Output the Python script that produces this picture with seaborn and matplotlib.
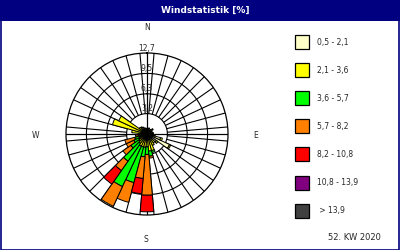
import numpy as np
import matplotlib
matplotlib.use("Agg")
import matplotlib.pyplot as plt
from matplotlib.patches import Rectangle
import seaborn as sns

sns.set_style("white")
plt.rcParams['font.family'] = ['DejaVu Sans']

# ---- data ----
directions = list(range(0, 360, 10))
class_labels = ["0,5 - 2,1", "2,1 - 3,6", "3,6 - 5,7", "5,7 - 8,2",
                "8,2 - 10,8", "10,8 - 13,9", " > 13,9"]
class_colors = ["#FFFFC8", "#FFFF00", "#00FF00", "#FF8000",
                "#FF0000", "#800080", "#404040"]
v_05_21 = [0.6, 0.5, 0.7, 0.5, 0.6, 0.8, 0.6, 0.5, 0.7, 0.8, 1.0, 2.2,
           3.9, 1.8, 0.9, 0.6, 0.5, 0.4, 0.3, 0.3, 0.3, 0.3, 0.3, 0.3,
           0.4, 0.4, 0.5, 0.6, 0.8, 0.6, 0.5, 0.7, 0.9, 0.8, 0.7, 0.6]
v_21_36 = [0.3, 0.2, 0.3, 0.2, 0.3, 0.4, 0.3, 0.2, 0.3, 0.2, 0.3, 0.3,
           0.2, 0.3, 0.8, 1.4, 2.2, 2.3, 1.7, 1.8, 1.8, 1.8, 1.5, 1.3,
           1.0, 0.8, 0.6, 0.8, 1.6, 5.0, 4.4, 0.8, 0.5, 0.4, 0.3, 0.3]
v_36_57 = [0, 0, 0, 0, 0, 0, 0, 0, 0, 0, 0, 0,
           0, 0, 0, 0, 0.3, 0.8, 1.2, 1.5, 5.8, 7.0, 3.4, 1.5,
           0.9, 0.8, 0.3, 0, 0, 0, 0, 0, 0, 0, 0, 0]
v_57_82 = [0, 0, 0, 0, 0, 0, 0, 0, 0, 0, 0, 0,
           0, 0, 0, 0, 0, 0.3, 6.4, 3.4, 3.2, 3.4, 1.8, 1.5,
           1.3, 1.6, 0.4, 0, 0, 0, 0, 0, 0, 0, 0, 0]
v_82_108 = [0, 0, 0, 0, 0, 0, 0, 0, 0, 0, 0, 0,
            0, 0, 0, 0, 0, 0, 2.6, 2.4, 0, 0, 2.6, 0,
            0, 0, 0, 0, 0, 0, 0, 0, 0, 0, 0, 0]
v_108_139 = [0] * 36
v_gt_139 = [0] * 36
ring_ticks = [3.2, 6.3, 9.5, 12.7]
ring_labels = ["3,2", "6,3", "9,5", "12,7"]
compass = ["N", "E", "S", "W"]
title = "Windstatistik [%]"
footer = "52. KW 2020"

series = [v_05_21, v_21_36, v_36_57, v_57_82, v_82_108, v_108_139, v_gt_139]

navy = "#000080"
fig = plt.figure(figsize=(4, 2.5), dpi=100)
fig.patch.set_facecolor("white")

# title bar and frame
fig.add_artist(Rectangle((0, 229 / 250), 1, 21 / 250, transform=fig.transFigure,
                         facecolor=navy, edgecolor="none"))
fig.add_artist(Rectangle((0.0015, 0.002), 0.997, 0.996, transform=fig.transFigure,
                         facecolor="none", edgecolor=navy, lw=1.2))
fig.text(205 / 400, 239.5 / 250, title, color="white", fontsize=6.5,
         fontweight="bold", ha="center", va="center")

# polar axes: centre (147,134) px, radius 81 px
cx, cy, R = 147, 134, 81
ax = fig.add_axes([(cx - R) / 400, (250 - cy - R) / 250, 2 * R / 400, 2 * R / 250],
                  projection="polar")
ax.set_theta_zero_location("N")
ax.set_theta_direction(-1)
rmax = ring_ticks[-1]
ax.set_ylim(0, rmax)
ax.grid(False)
ax.set_xticks([])
ax.set_yticks([])
ax.spines["polar"].set_linewidth(0.9)
ax.spines["polar"].set_color("black")

# grid: rings and spokes
th = np.linspace(0, 2 * np.pi, 361)
for r in ring_ticks[:-1]:
    ax.plot(th, np.full_like(th, r), color="black", lw=0.8, zorder=1)
for d in directions:
    t = np.deg2rad(d + 5)
    ax.plot([t, t], [ring_ticks[0], rmax], color="black", lw=0.8, zorder=1)
for d in [0, 90]:
    t = np.deg2rad(d)
    ax.plot([t, t + np.pi], [rmax, rmax], color="black", lw=0.8, zorder=1)
    ax.plot([t, t], [0, rmax], color="black", lw=0.8, zorder=1)
    ax.plot([t + np.pi, t + np.pi], [0, rmax], color="black", lw=0.8, zorder=1)

# stacked bars
theta = np.deg2rad(np.array(directions, dtype=float))
bottom = np.zeros(len(directions))
width = np.deg2rad(10)
for vals, col in zip(series, class_colors):
    v = np.array(vals, dtype=float)
    m = v > 0
    if m.any():
        ax.bar(theta[m], v[m], width=width, bottom=bottom[m], color=col,
               edgecolor="black", linewidth=0.7, zorder=3, align="center")
    bottom += v

# ring labels along north axis
for r, lab in zip(ring_ticks, ring_labels):
    ypx = cy - r / rmax * R - 5
    fig.text(cx / 400, (250 - ypx) / 250, lab, fontsize=5.5, ha="center",
             va="center", zorder=5)

# compass labels
pos = {"N": (147, 28), "E": (256, 136), "S": (146, 239), "W": (35, 136)}
for c in compass:
    x, y = pos[c]
    fig.text(x / 400, (250 - y) / 250, c, fontsize=5.5, ha="center", va="center")

# legend
for i, (lab, col) in enumerate(zip(class_labels, class_colors)):
    yc = 42 + i * 28.1
    fig.add_artist(Rectangle((295 / 400, (250 - yc - 7) / 250), 14 / 400, 14 / 250,
                             transform=fig.transFigure, facecolor=col,
                             edgecolor="black", lw=0.9))
    fig.text(317 / 400, (250 - yc) / 250, lab, fontsize=5.5, ha="left", va="center")

fig.text(381 / 400, (250 - 238) / 250, footer, fontsize=6, ha="right", va="center")

fig.savefig("out.png", dpi=100)
